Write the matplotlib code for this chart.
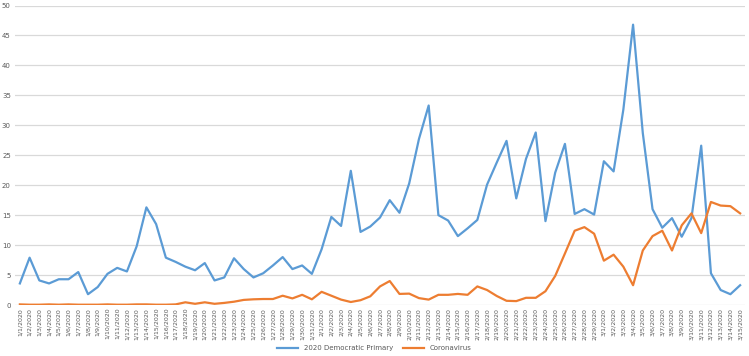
import datetime as dt
import matplotlib
matplotlib.use("Agg")
import matplotlib.pyplot as plt
import numpy as np

# Daily values, 1/1/2020 .. 3/15/2020
start = dt.date(2020, 1, 1)
dates = [start + dt.timedelta(days=i) for i in range(75)]
date_labels = [f"{d.month}/{d.day}/{d.year}" for d in dates]

primary = [
    3.6, 7.9, 4.1, 3.6, 4.3, 4.3, 5.5, 1.8, 3.0, 5.2,
    6.2, 5.6, 9.8, 16.3, 13.5, 7.9, 7.2, 6.4, 5.8, 7.0,
    4.1, 4.6, 7.8, 6.0, 4.6, 5.3, 6.6, 8.0, 6.0, 6.6,
    5.2, 9.3, 14.7, 13.2, 22.4, 12.2, 13.1, 14.6, 17.5, 15.4,
    20.3, 27.7, 33.3, 15.0, 14.1, 11.5, 12.8, 14.2, 20.1, 23.8,
    27.4, 17.8, 24.4, 28.8, 14.0, 22.1, 26.9, 15.2, 16.0, 15.1,
    24.0, 22.3, 32.6, 46.8, 28.7, 16.0, 12.9, 14.5, 11.4, 14.5,
    26.6, 5.3, 2.5, 1.8, 3.3,
]
corona = [
    0.1, 0.05, 0.05, 0.1, 0.05, 0.1, 0.05, 0.05, 0.05, 0.1,
    0.05, 0.05, 0.1, 0.1, 0.05, 0.05, 0.1, 0.45, 0.2, 0.45,
    0.2, 0.35, 0.55, 0.85, 0.95, 1.0, 1.0, 1.55, 1.1, 1.7,
    0.95, 2.2, 1.55, 0.9, 0.5, 0.8, 1.45, 3.1, 4.0, 1.85,
    1.9, 1.15, 0.9, 1.7, 1.7, 1.85, 1.7, 3.1, 2.5, 1.5,
    0.7, 0.65, 1.2, 1.2, 2.3, 4.85, 8.6, 12.4, 13.0, 11.9,
    7.4, 8.4, 6.4, 3.3, 9.1, 11.5, 12.4, 9.1, 13.3, 15.3,
    12.0, 17.2, 16.6, 16.5, 15.3,
]

fig = plt.figure(figsize=(7.49, 3.56), dpi=100)
ax = fig.add_axes([15 / 749, 51 / 356, 730 / 749, 299.5 / 356])

x = np.arange(len(dates))
ax.plot(x, primary, color="#5b9bd5", lw=1.6, label="2020 Democratic Primary")
ax.plot(x, corona, color="#ed7d31", lw=1.6, label="Coronavirus")

ax.set_xlim(-0.5, len(dates) - 0.5)
ax.set_ylim(0, 50)
ax.set_yticks(np.arange(0, 51, 5))
ax.set_xticks(x)
ax.set_xticklabels(date_labels, rotation=90, fontsize=4.5, color="#595959")
ax.tick_params(axis="y", labelsize=5, colors="#595959", length=0, pad=3)
ax.tick_params(axis="x", length=0, pad=2)
ax.grid(axis="y", color="#d9d9d9", lw=0.9)
ax.set_axisbelow(True)
for s in ax.spines.values():
    s.set_visible(False)

fig.legend(loc="center", bbox_to_anchor=(0.5, 8 / 356), ncol=2, frameon=False,
           fontsize=5, labelcolor="#595959", handlelength=3, columnspacing=1.5)

fig.savefig("out.png", dpi=100)
